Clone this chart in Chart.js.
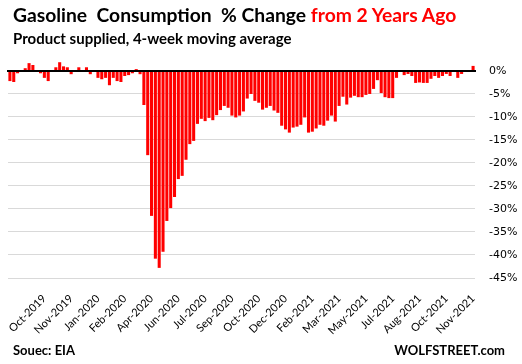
<!DOCTYPE html>
<html>
<head>
<meta charset="utf-8">
<script src="https://cdn.jsdelivr.net/npm/chart.js@4"></script>
<style>
    html, body { margin: 0; padding: 0; background: #fff; }
    #wrap { position: relative; width: 522px; height: 364px; overflow: hidden; }
    #chart { position: absolute; left: 0; top: 0; }
    .txt { position: absolute; font-family: Lato, "Open Sans", sans-serif; font-weight: bold; white-space: pre; color: #000; }
    #title { left: 13px; top: 4px; font-size: 19.3px; line-height: 22px; }
    #title span { color: #ff0000; }
    #subtitle { left: 13px; top: 30px; font-size: 15px; line-height: 17px; }
    #source { left: 13px; top: 342px; font-size: 13px; line-height: 16px; }
    #brand { right: 17px; top: 342px; font-size: 13px; line-height: 16px; }
</style>
</head>
<body>
<div id="wrap">
    <canvas id="chart" width="522" height="364"></canvas>
    <div class="txt" id="title">Gasoline  Consumption  % Change <span>from 2 Years Ago</span></div>
    <div class="txt" id="subtitle">Product supplied, 4-week moving average</div>
    <div class="txt" id="source">Souec: EIA</div>
    <div class="txt" id="brand">WOLFSTREET.com</div>
</div>
<script>
// 刻度标签（每7周一个）
const tickLabels = ['Oct-2019', 'Nov-2019', 'Jan-2020', 'Feb-2020', 'Apr-2020', 'Jun-2020', 'Jul-2020',
    'Sep-2020', 'Oct-2020', 'Dec-2020', 'Feb-2021', 'Mar-2021', 'May-2021', 'Jul-2021',
    'Aug-2021', 'Oct-2021', 'Nov-2021'];
const firstTickIndex = 9;
const tickStep = 7;

// Y轴刻度 (%)
const yTicks = [0, -5, -10, -15, -20, -25, -30, -35, -40, -45];

// 每周汽油消费相对两年前的变化 (%)
const changePct = [
    -2.2, -2.4, -0.5, 0, 0.6, 1.7, 1.3, 0, -0.5, -1.5,
    -2.2, 0, 0.8, 1.9, 1.0, 0.8, -0.7, 0, 0.8, 0,
    0.8, -0.7, 0, -1.5, -1.8, -1.5, -3.1, -1.5, -2.2, -2.4,
    -1.1, -0.9, -0.5, 0.4, -0.7, -7.4, -18.3, -31.5, -40.8, -42.8,
    -39.3, -32.6, -29.8, -27.4, -23.5, -22.8, -19.3, -15.9, -15.2, -11.5,
    -10.4, -10.9, -10.2, -10.7, -9.6, -8.5, -7.6, -8.0, -9.7, -10.1,
    -9.7, -8.8, -6.0, -5.0, -6.5, -6.9, -8.4, -8.0, -7.6, -8.6,
    -9.1, -11.9, -12.7, -13.4, -12.3, -12.1, -11.7, -10.1, -13.4, -13.2,
    -12.5, -11.7, -11.9, -10.8, -9.7, -11.0, -7.6, -5.6, -7.3, -5.8,
    -5.4, -5.7, -5.7, -5.2, -5.0, -3.9, -2.0, -4.8, -5.7, -5.9,
    -5.9, -1.5, 0, -0.9, -0.65, -1.1, -2.6, -2.5, -2.6, -2.6,
    -1.7, -1.1, -1.5, -1.1, -0.65, -1.1, 0, -1.5, -0.65, 0,
    0, 1.1
];

// 类别：每周一个，只有部分显示标签
const weeks = changePct.map((v, i) => {
    const k = (i - firstTickIndex) / tickStep;
    return Number.isInteger(k) && k >= 0 && k < tickLabels.length ? tickLabels[k] : '';
});

// 零线画在柱子上面
const zeroLine = {
    id: 'zeroLine',
    afterDatasetsDraw(chart) {
        const { ctx, chartArea, scales } = chart;
        const y = scales.y.getPixelForValue(0);
        ctx.save();
        ctx.strokeStyle = '#000';
        ctx.lineWidth = 2;
        ctx.beginPath();
        ctx.moveTo(chartArea.left - 1, y);
        ctx.lineTo(chartArea.right + 1, y);
        ctx.stroke();
        ctx.restore();
    }
};

new Chart(document.getElementById('chart'), {
    type: 'bar',
    data: {
        labels: weeks,
        datasets: [{
            data: changePct,
            backgroundColor: '#ff0000',
            borderWidth: 0,
            categoryPercentage: 1,
            barPercentage: 0.8
        }]
    },
    options: {
        responsive: false,
        animation: false,
        events: [],
        layout: { padding: { left: 8, top: 59, right: 0, bottom: 0 } },
        plugins: {
            legend: { display: false },
            tooltip: { enabled: false }
        },
        scales: {
            x: {
                grid: { display: false },
                border: { display: false },
                ticks: {
                    autoSkip: false,
                    maxRotation: 45,
                    minRotation: 45,
                    padding: 6,
                    color: '#000',
                    font: { family: 'Lato', size: 11 }
                },
                afterFit(scale) { scale.height = 86; }
            },
            y: {
                position: 'right',
                min: -45,
                max: 2.6,
                border: { display: false },
                grid: {
                    drawTicks: false,
                    color: ctx => ctx.tick && ctx.tick.value === 0 ? '#000' : '#d9d9d9',
                    lineWidth: 1
                },
                ticks: {
                    padding: 14,
                    color: '#000',
                    font: { family: 'DejaVu Sans', size: 11 },
                    callback: v => v + '%'
                },
                afterBuildTicks(scale) {
                    scale.ticks = yTicks.map(v => ({ value: v }));
                },
                afterFit(scale) { scale.width = 47; }
            }
        }
    },
    plugins: [zeroLine]
});
</script>
</body>
</html>
